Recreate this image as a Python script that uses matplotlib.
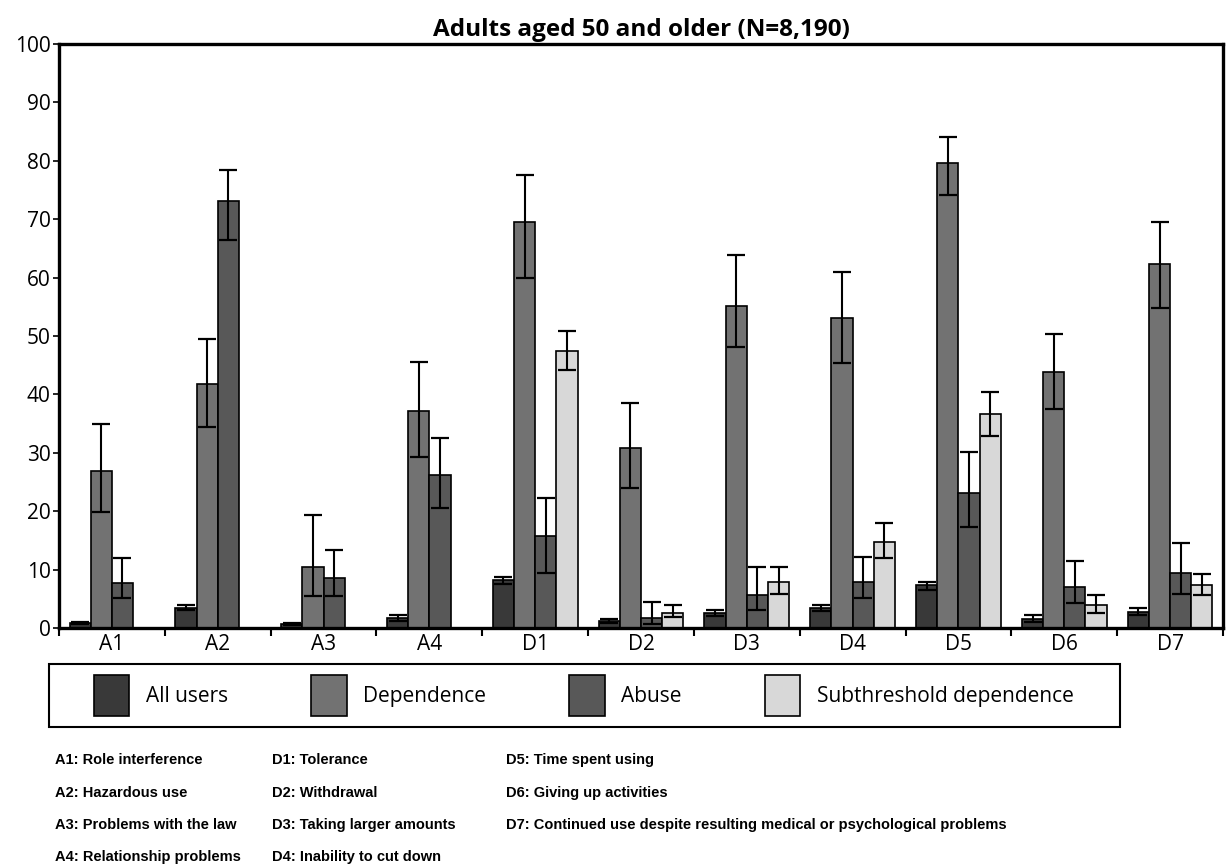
import numpy as np
import matplotlib
matplotlib.use("Agg")
import matplotlib.pyplot as plt
from matplotlib.patches import Patch, Rectangle
from matplotlib import font_manager

# ===============================
# DATA (percent)
# ===============================
criteria = ["A1", "A2", "A3", "A4", "D1", "D2", "D3", "D4", "D5", "D6", "D7"]
groups = ["All users", "Dependence", "Abuse", "Subthreshold dependence"]

all_users = [0.9, 3.4, 0.7, 1.7, 8.2, 1.2, 2.5, 3.4, 7.3, 1.6, 2.8]
all_users_lo = [0.7, 3.0, 0.5, 1.2, 7.5, 0.9, 2.0, 2.9, 6.5, 1.1, 2.3]
all_users_hi = [1.1, 3.9, 0.9, 2.2, 8.7, 1.5, 3.0, 3.9, 7.9, 2.2, 3.4]

dependence = [26.8, 41.8, 10.5, 37.2, 69.6, 30.9, 55.2, 53.0, 79.6, 43.9, 62.4]
dependence_lo = [19.9, 34.4, 5.4, 29.2, 59.9, 23.9, 48.1, 45.3, 74.2, 37.5, 54.8]
dependence_hi = [34.9, 49.5, 19.3, 45.5, 77.6, 38.6, 63.8, 60.9, 84.1, 50.4, 69.5]

abuse = [7.7, 73.1, 8.5, 26.2, 15.7, 1.7, 5.6, 7.9, 23.1, 7.1, 9.4]
abuse_lo = [5.1, 66.5, 5.4, 20.5, 9.5, 0.6, 3.0, 5.1, 17.3, 4.2, 5.9]
abuse_hi = [12.0, 78.4, 13.4, 32.6, 22.2, 4.4, 10.5, 12.2, 30.2, 11.4, 14.5]

subthreshold = [0, 0, 0, 0, 47.5, 2.5, 7.9, 14.8, 36.7, 3.9, 7.4]
subthreshold_lo = [0, 0, 0, 0, 44.1, 1.9, 5.9, 12.0, 32.9, 2.5, 5.7]
subthreshold_hi = [0, 0, 0, 0, 50.8, 3.9, 10.5, 18.0, 40.4, 5.6, 9.3]

notes_col1 = ["A1: Role interference", "A2: Hazardous use",
              "A3: Problems with the law", "A4: Relationship problems"]
notes_col2 = ["D1: Tolerance", "D2: Withdrawal",
              "D3: Taking larger amounts", "D4: Inability to cut down"]
notes_col3 = ["D5: Time spent using", "D6: Giving up activities",
              "D7: Continued use despite resulting medical or psychological problems"]

colors = ["#393939", "#727272", "#585858", "#d8d8d8"]

# ===============================
# FONTS
# ===============================
installed = {f.name for f in font_manager.fontManager.ttflist}
main_font = "Open Sans" if "Open Sans" in installed else "DejaVu Sans"
narrow_font = "Liberation Sans"
for cand in ["Liberation Sans Narrow", "DejaVu Sans Condensed"]:
    if cand in installed:
        narrow_font = cand
        break

plt.rcParams["font.family"] = [main_font, "DejaVu Sans"]

W, H = 1226, 867

# ===============================
# FIGURE
# ===============================
fig = plt.figure(figsize=(W / 100, H / 100), dpi=100)
ax = fig.add_axes([59 / W, 1 - 628 / H, (1223 - 59) / W, (628 - 44) / H])

x = np.arange(len(criteria))
width = 0.2

series = [
    (all_users, all_users_lo, all_users_hi),
    (dependence, dependence_lo, dependence_hi),
    (abuse, abuse_lo, abuse_hi),
    (subthreshold, subthreshold_lo, subthreshold_hi),
]

for k, (vals, lo, hi) in enumerate(series):
    vals = np.array(vals)
    pos = x + (k - 1.5) * width
    ax.bar(pos, vals, width, color=colors[k], edgecolor="black",
           linewidth=1.2, zorder=2)
    has = vals > 0
    err = np.vstack([vals - np.array(lo), np.array(hi) - vals])
    ax.errorbar(pos[has], vals[has], yerr=err[:, has], fmt="none",
                ecolor="black", elinewidth=1.5, capsize=6.5, capthick=1.6,
                zorder=3)

ax.set_xlim(-0.5, len(criteria) - 0.5)
ax.set_ylim(0, 100)
ax.set_yticks(np.arange(0, 101, 10))
ax.tick_params(axis="y", labelsize=15, length=4, width=1.2, pad=2)

# category boundaries get the ticks, labels sit at the centres
ax.set_xticks(np.arange(-0.5, len(criteria), 1))
ax.set_xticklabels([])
ax.set_xticks(x, minor=True)
ax.set_xticklabels(criteria, minor=True)
ax.tick_params(axis="x", which="major", length=6, width=1.5)
ax.tick_params(axis="x", which="minor", length=0, labelsize=15, pad=4)

for side in ["left", "right", "top", "bottom"]:
    ax.spines[side].set_linewidth(2.4)

ax.set_title("Adults aged 50 and older (N=8,190)", fontsize=17.5,
             fontweight="bold", pad=6)

# ===============================
# LEGEND (frame drawn separately so entries sit inset like the original)
# ===============================
fig.add_artist(Rectangle((49 / W, 1 - 727 / H), (1120 - 49) / W, 63 / H,
                         transform=fig.transFigure, facecolor="white",
                         edgecolor="black", linewidth=1.5, zorder=1))
handles = [Patch(facecolor=c, edgecolor="black", linewidth=1.2) for c in colors]
leg = fig.legend(handles, groups, loc="center left", ncol=4, mode="expand",
                 bbox_to_anchor=(94 / W, 1 - 727 / H, (1074 - 94) / W, 63 / H),
                 fontsize=15, frameon=False, borderaxespad=0, borderpad=0,
                 handlelength=1.7, handleheight=2.6, handletextpad=0.8)
leg.set_zorder(2)

# ===============================
# FOOTNOTES
# ===============================
row_y = [760, 793, 825, 857]
for col_x, notes in [(55, notes_col1), (272, notes_col2), (506, notes_col3)]:
    for i, txt in enumerate(notes):
        fig.text(col_x / W, 1 - row_y[i] / H, txt, fontsize=10.5,
                 family=[narrow_font, "DejaVu Sans"], fontweight="bold",
                 va="center", ha="left")

fig.savefig("out.png", dpi=100)
